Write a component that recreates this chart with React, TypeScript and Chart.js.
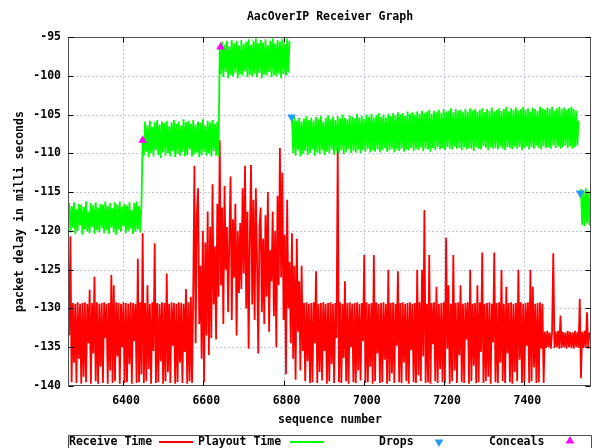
import React, { useEffect, useRef } from 'react';
import { Chart, registerables } from 'chart.js';

Chart.register(...registerables);

// ---------- text ----------
const TITLE = 'AacOverIP Receiver Graph';
const X_TITLE = 'sequence number';
const Y_TITLE = 'packet delay in milli seconds';
const legendLabels = ['Receive Time', 'Playout Time', 'Drops', 'Conceals'];

// ---------- axes ----------
const X_MIN = 6263;
const X_MAX = 7566;
const Y_MIN = -140;
const Y_MAX = -95;
const xTickValues = [6400, 6600, 6800, 7000, 7200, 7400];
const yTickValues = [-140, -135, -130, -125, -120, -115, -110, -105, -100, -95];

// sequence numbers of the line samples: first one and spacing
const SEQ_FIRST = 6263;
const SEQ_STEP = 3;

// ---------- series (ms) ----------
const receiveTime: number[] = [
  // 6263 .. 6572
  -131.5, -133.5, -120.7, -139.5, -129.3, -137.0, -129.4, -139.6, -129.2, -136.5,
  -129.4, -139.7, -129.3, -138.8, -129.2, -139.5, -129.4, -134.5, -127.6, -139.7,
  -129.3, -135.8, -125.9, -139.4, -129.2, -139.7, -129.4, -137.5, -129.3, -139.6,
  -129.2, -133.8, -129.4, -139.7, -129.3, -138.0, -125.7, -139.6, -127.0, -139.4,
  -129.2, -136.2, -129.3, -139.7, -129.4, -135.0, -129.2, -139.6, -129.3, -139.5,
  -129.4, -137.2, -129.2, -139.7, -129.3, -134.2, -129.4, -139.6, -123.6, -139.5,
  -129.2, -138.5, -120.3, -139.6, -129.3, -139.4, -127.0, -137.8, -129.4, -139.7,
  -129.2, -135.5, -121.6, -139.6, -129.3, -139.5, -129.4, -136.8, -129.2, -139.7,
  -129.3, -139.4, -125.5, -138.2, -129.4, -139.6, -129.2, -134.8, -129.3, -139.7,
  -129.4, -139.5, -129.2, -137.0, -129.3, -139.6, -129.4, -135.6, -127.5, -139.7,
  -129.2, -139.4, -128.5, -139.6,
  // 6575 .. 6848
  -128.0, -111.6, -134.5, -118.0, -114.5, -132.0, -124.5, -136.5, -120.0, -139.5,
  -121.5, -133.5, -117.5, -136.0, -119.5, -133.8, -114.0, -129.5, -122.0, -134.0,
  -116.5, -128.5, -108.3, -127.0, -117.0, -132.0, -114.2, -125.0, -119.5, -130.5,
  -121.0, -113.0, -131.5, -118.5, -126.0, -116.5, -133.5, -120.0, -128.0, -119.0,
  -127.5, -114.5, -125.5, -111.6, -130.0, -117.5, -135.2, -121.0, -111.5, -129.5,
  -116.0, -131.5, -114.5, -124.0, -135.8, -119.5, -117.0, -130.5, -121.0, -132.0,
  -118.0, -128.5, -115.0, -133.0, -122.5, -126.5, -117.5, -131.0, -120.0, -135.0,
  -115.5, -127.0, -109.3, -126.0, -112.5, -131.5, -120.5, -138.5, -116.0, -130.0,
  -124.0, -134.5, -120.3, -136.5, -124.5, -139.2, -121.0, -133.0, -126.5, -138.0,
  -124.5, -135.5,
  // 6851 .. 7448
  -129.3, -139.4, -129.2, -136.8, -129.4, -139.6, -129.3, -139.5, -129.2, -134.5,
  -125.2, -139.6, -129.4, -138.2, -129.3, -139.3, -129.2, -135.5, -129.4, -139.7,
  -129.3, -139.4, -129.2, -137.2, -129.4, -139.6, -129.3, -133.8, -109.3, -139.5,
  -129.2, -139.6, -129.4, -136.4, -126.5, -139.4, -129.3, -139.7, -129.2, -135.0,
  -129.4, -139.5, -129.3, -139.6, -129.2, -138.0, -129.4, -139.3, -129.3, -134.2,
  -123.1, -139.6, -129.2, -139.5, -129.4, -137.5, -129.3, -139.7, -123.1, -139.4,
  -129.2, -135.8, -129.4, -139.6, -129.3, -139.5, -129.2, -136.6, -129.4, -139.7,
  -125.0, -139.4, -129.3, -138.4, -129.2, -139.6, -129.4, -134.8, -125.2, -139.5,
  -129.3, -139.6, -129.2, -137.0, -129.4, -139.4, -129.3, -139.7, -129.2, -135.4,
  -129.4, -139.5, -129.3, -139.6, -125.0, -138.6, -129.2, -139.4, -125.0, -136.2,
  -117.3, -139.6, -129.4, -139.5, -123.1, -139.7, -129.3, -134.6, -129.2, -139.4,
  -127.2, -139.6, -129.4, -137.8, -129.3, -139.5, -129.2, -139.6, -120.9, -135.2,
  -127.0, -139.7, -129.4, -139.4, -123.1, -138.0, -129.3, -139.6, -129.2, -136.0,
  -127.0, -139.5, -129.4, -139.6, -129.3, -134.0, -129.2, -139.7, -125.0, -139.4,
  -129.4, -137.4, -129.3, -139.6, -127.0, -139.5, -129.2, -135.6, -122.8, -139.6,
  -129.4, -139.4, -129.3, -138.8, -129.2, -139.7, -129.4, -134.4, -122.8, -139.5,
  -129.3, -139.6, -129.2, -137.0, -125.0, -139.4, -129.4, -139.6, -127.2, -135.8,
  -129.3, -139.5, -129.2, -139.7, -129.4, -138.2, -129.3, -139.4, -125.0, -136.6,
  -129.2, -139.6, -129.4, -139.5, -129.3, -134.8, -129.2, -139.6, -125.0, -139.4,
  -127.2, -137.6, -129.4, -139.6, -129.3, -139.5, -129.2, -135.2, -129.4, -139.6,
  // 7451 .. 7565
  -133.0, -135.1, -132.9, -135.0, -133.1, -135.2, -133.0, -122.9, -135.1, -133.0,
  -135.0, -132.9, -135.2, -130.9, -135.1, -133.0, -135.0, -133.1, -135.2, -132.9,
  -135.0, -133.0, -135.1, -133.1, -135.2, -132.9, -135.0, -133.0, -135.1, -128.8,
  -139.0, -133.0, -135.1, -132.9, -135.0, -130.5, -135.2, -133.1, -133.6,
];

const playoutTime: (number | null)[] = [
  // 6263 .. 6446
  -118.5, -116.4, -120.2, -116.8, -119.6, -116.3, -120.4, -117.2, -120.0, -116.5,
  -119.3, -116.6, -120.5, -116.9, -119.8, -116.2, -120.1, -117.5, -120.3, -116.4,
  -119.5, -116.7, -120.4, -116.3, -119.9, -117.0, -120.2, -116.5, -119.7, -116.6,
  -120.3, -116.2, -119.9, -116.8, -120.4, -116.4, -119.6, -117.1, -120.2, -116.3,
  -120.5, -116.6, -119.8, -116.2, -120.1, -116.9, -119.4, -116.5, -120.3, -116.7,
  -120.0, -116.3, -119.7, -117.3, -120.4, -116.4, -120.1, -116.2, -119.8, -116.8,
  -120.2, -116.5,
  // 6449 .. 6638
  -108.2, -110.3, -105.9, -109.8, -106.4, -110.5, -105.8, -110.0, -106.6, -110.4,
  -106.0, -109.6, -105.7, -110.2, -106.3, -110.6, -105.9, -109.9, -106.1, -110.3,
  -105.8, -110.0, -106.5, -110.4, -106.0, -109.7, -105.7, -110.5, -106.2, -110.1,
  -105.9, -110.3, -106.4, -109.8, -105.6, -110.4, -106.0, -110.2, -105.8, -109.5,
  -106.2, -110.4, -105.7, -110.1, -106.3, -109.9, -105.9, -110.5, -106.1, -110.2,
  -105.6, -109.8, -106.4, -110.3, -105.8, -110.0, -106.0, -110.4, -105.7, -109.7,
  -106.2, -110.3, -105.9, -110.4,
  // 6641 .. 6815
  -96.5, -99.8, -95.6, -100.2, -96.0, -99.5, -95.5, -100.3, -96.2, -99.9,
  -95.4, -100.1, -95.8, -99.6, -95.5, -100.3, -96.1, -99.8, -95.4, -100.0,
  -95.9, -99.4, -95.6, -100.2, -95.3, -99.9, -96.0, -100.1, -95.5, -99.7,
  -95.2, -100.2, -95.8, -99.6, -95.4, -100.3, -95.7, -99.8, -95.3, -100.0,
  -96.0, -99.5, -95.5, -100.2, -95.2, -99.9, -95.8, -100.1, -95.4, -99.7,
  -95.6, -100.3, -95.3, -99.8, -95.9, -100.0, -95.2, -99.6, -95.5,
  // 6818 (dropped)
  null,
  // 6821 .. 7535
  -105.6, -110.0, -105.3, -110.3, -105.8, -109.6, -105.4, -110.4, -105.9, -110.1,
  -105.5, -109.7, -105.2, -110.2, -105.7, -110.0, -105.4, -109.5, -105.8, -110.3,
  -105.3, -109.9, -105.6, -110.1, -105.2, -109.6, -105.9, -110.2, -105.4, -109.8,
  -105.1, -110.0, -105.6, -109.5, -105.3, -110.2, -105.7, -109.7, -105.2, -110.0,
  -105.5, -109.6, -105.0, -110.1, -105.4, -109.8, -105.6, -109.4, -105.1, -110.0,
  -105.3, -109.7, -105.5, -109.9, -104.9, -109.5, -105.4, -110.0, -105.2, -109.6,
  -105.6, -109.8, -105.0, -109.4, -105.3, -109.9, -104.9, -109.6, -105.4, -109.8,
  -105.1, -109.5, -104.8, -109.9, -105.3, -109.6, -105.0, -109.3, -105.4, -109.8,
  -104.9, -109.6, -105.2, -109.4, -104.8, -109.9, -105.1, -109.5, -104.7, -109.7,
  -105.0, -109.4, -104.8, -109.8, -105.2, -109.5, -104.6, -109.6, -104.9, -109.3,
  -104.7, -109.7, -105.0, -109.4, -104.6, -109.6, -104.9, -109.2, -104.5, -109.7,
  -104.8, -109.4, -104.6, -109.5, -104.4, -109.8, -104.9, -109.3, -104.5, -109.6,
  -104.7, -109.2, -104.4, -109.5, -104.8, -109.3, -104.3, -109.6, -104.6, -109.2,
  -104.5, -109.4, -104.2, -109.5, -104.7, -109.1, -104.3, -109.4, -104.5, -109.3,
  -104.4, -109.6, -104.7, -109.2, -104.3, -109.5, -104.6, -109.3, -104.2, -109.4,
  -104.5, -109.7, -104.3, -109.2, -104.6, -109.4, -104.4, -109.5, -104.2, -109.1,
  -104.7, -109.3, -104.3, -109.6, -104.5, -109.2, -104.1, -109.4, -104.6, -109.3,
  -104.4, -109.5, -104.2, -109.1, -104.5, -109.4, -104.3, -109.6, -104.0, -109.2,
  -104.6, -109.3, -104.2, -109.5, -104.4, -109.1, -104.1, -109.4, -104.5, -109.2,
  -104.3, -109.6, -104.0, -109.3, -104.4, -109.1, -104.2, -109.5, -104.6, -109.2,
  -104.1, -109.4, -104.3, -109.0, -104.5, -109.3, -104.0, -109.5, -104.2, -109.1,
  -104.4, -109.3, -104.1, -109.2, -104.3, -109.4, -104.0, -109.0, -104.5, -109.3,
  -104.2, -109.1, -104.0, -109.4, -104.3, -109.2, -104.1, -109.0, -104.4, -109.3,
  -104.2, -109.1, -104.0, -109.4, -104.3, -109.2, -104.5, -109.0, -105.8,
  // 7538 (dropped)
  null,
  // 7541 .. 7565
  -114.6, -119.2, -114.8, -119.4, -114.5, -119.0, -114.9, -119.3, -115.0,
];

const dropSeq = [6820, 7539];
const dropDelay = [-105.3, -115.1];
const concealSeq = [6449, 6643];
const concealDelay = [-108.3, -96.3];

// ---------- style ----------
const RED = '#ff0000';
const GREEN = '#00ff00';
const BLUE = '#1e9bf5';
const MAGENTA = '#ff00ff';
const GRID = '#c4c4f4';
const BORDER = '#505050';
const FONT = 'bold 11.5px "DejaVu Sans Mono", "Liberation Mono", monospace';

function tri(ctx: CanvasRenderingContext2D, x: number, y: number, r: number, down: boolean, color: string) {
  ctx.save();
  ctx.fillStyle = color;
  ctx.beginPath();
  const s = down ? -1 : 1;
  ctx.moveTo(x, y - s * r);
  ctx.lineTo(x + r * 0.866, y + s * r * 0.5);
  ctx.lineTo(x - r * 0.866, y + s * r * 0.5);
  ctx.closePath();
  ctx.fill();
  ctx.restore();
}

const decor = {
  id: 'decor',
  beforeDatasetsDraw(chart: any) {
    const { ctx, chartArea: a, scales } = chart;
    const xs = scales.x;
    const ys = scales.y;
    ctx.save();
    ctx.strokeStyle = GRID;
    ctx.lineWidth = 1;
    ctx.setLineDash([2, 2]);
    xTickValues.forEach((v) => {
      const px = Math.round(xs.getPixelForValue(v)) + 0.5;
      ctx.beginPath();
      ctx.moveTo(px, a.top);
      ctx.lineTo(px, a.bottom);
      ctx.stroke();
    });
    yTickValues.forEach((v) => {
      if (v === Y_MIN || v === Y_MAX) return;
      const py = Math.round(ys.getPixelForValue(v)) + 0.5;
      ctx.beginPath();
      ctx.moveTo(a.left, py);
      ctx.lineTo(a.right, py);
      ctx.stroke();
    });
    ctx.restore();
  },
  afterDatasetsDraw(chart: any) {
    const { ctx, chartArea: a, scales } = chart;
    const xs = scales.x;
    const ys = scales.y;
    const L = Math.round(a.left) + 0.5;
    const R = Math.round(a.right) - 0.5;
    const T = Math.round(a.top) + 0.5;
    const B = Math.round(a.bottom) - 0.5;
    ctx.save();
    ctx.strokeStyle = BORDER;
    ctx.lineWidth = 1;
    ctx.strokeRect(L, T, R - L, B - T);
    ctx.strokeStyle = '#000';
    const TL = 5;
    xTickValues.forEach((v) => {
      const px = Math.round(xs.getPixelForValue(v)) + 0.5;
      ctx.beginPath();
      ctx.moveTo(px, B);
      ctx.lineTo(px, B - TL);
      ctx.moveTo(px, T);
      ctx.lineTo(px, T + TL);
      ctx.stroke();
    });
    yTickValues.forEach((v) => {
      const py = Math.round(ys.getPixelForValue(v)) + 0.5;
      ctx.beginPath();
      ctx.moveTo(L, py);
      ctx.lineTo(L + TL, py);
      ctx.moveTo(R, py);
      ctx.lineTo(R - TL, py);
      ctx.stroke();
    });
    ctx.restore();
  },
  afterDraw(chart: any) {
    const { ctx, chartArea: a } = chart;
    ctx.save();
    ctx.font = FONT;
    ctx.fillStyle = '#000';
    ctx.textBaseline = 'middle';
    ctx.textAlign = 'center';
    ctx.fillText(TITLE, 330, 17);
    ctx.fillText(X_TITLE, 330, 420);
    ctx.save();
    ctx.translate(20.5, (a.top + a.bottom) / 2);
    ctx.rotate(-Math.PI / 2);
    ctx.fillText(Y_TITLE, 0, 0);
    ctx.restore();

    // legend box
    ctx.strokeStyle = BORDER;
    ctx.lineWidth = 1;
    ctx.beginPath();
    ctx.moveTo(68.5, 448);
    ctx.lineTo(68.5, 435.5);
    ctx.lineTo(591.5, 435.5);
    ctx.lineTo(591.5, 448);
    ctx.stroke();

    const ly = 442;
    ctx.textAlign = 'left';
    ctx.fillText(legendLabels[0], 69, ly);
    ctx.fillText(legendLabels[1], 198, ly);
    ctx.fillText(legendLabels[2], 379, ly);
    ctx.fillText(legendLabels[3], 489, ly);
    ctx.lineWidth = 2;
    ctx.strokeStyle = RED;
    ctx.beginPath();
    ctx.moveTo(159, ly);
    ctx.lineTo(193, ly);
    ctx.stroke();
    ctx.strokeStyle = GREEN;
    ctx.beginPath();
    ctx.moveTo(290, ly);
    ctx.lineTo(324, ly);
    ctx.stroke();
    tri(ctx, 439, ly, 5, true, BLUE);
    tri(ctx, 570, ly - 1, 5, false, MAGENTA);
    ctx.restore();
  },
};

export default function App() {
  const ref = useRef<HTMLCanvasElement | null>(null);

  useEffect(() => {
    document.body.style.margin = '0';
    const canvas = ref.current;
    if (!canvas) return;

    const recv = receiveTime.map((v, i) => ({ x: SEQ_FIRST + i * SEQ_STEP, y: v }));
    const play = playoutTime.map((v, i) => ({ x: SEQ_FIRST + i * SEQ_STEP, y: v }));
    const drops = dropSeq.map((s, i) => ({ x: s, y: dropDelay[i] }));
    const conceals = concealSeq.map((s, i) => ({ x: s, y: concealDelay[i] }));

    const lineCommon = {
      pointRadius: 0,
      borderWidth: 1.8,
      tension: 0,
      fill: false,
      spanGaps: false,
      borderJoinStyle: 'bevel' as const,
    };

    const chart = new Chart(canvas, {
      type: 'line',
      data: {
        datasets: [
          { label: legendLabels[0], data: recv, borderColor: RED, order: 4, ...lineCommon },
          { label: legendLabels[1], data: play as any, borderColor: GREEN, order: 3, ...lineCommon },
          {
            label: legendLabels[2],
            data: drops,
            showLine: false,
            pointStyle: 'triangle',
            pointRotation: 180,
            pointRadius: 5,
            pointBorderWidth: 0,
            pointBackgroundColor: BLUE,
            pointBorderColor: BLUE,
            order: 2,
          },
          {
            label: legendLabels[3],
            data: conceals,
            showLine: false,
            pointStyle: 'triangle',
            pointRadius: 5,
            pointBorderWidth: 0,
            pointBackgroundColor: MAGENTA,
            pointBorderColor: MAGENTA,
            order: 1,
          },
        ],
      },
      options: {
        responsive: false,
        animation: false,
        events: [],
        layout: { padding: { top: 37, right: 4, bottom: 40, left: 0 } },
        plugins: {
          legend: { display: false },
          title: { display: false },
          tooltip: { enabled: false },
        },
        scales: {
          x: {
            type: 'linear',
            min: X_MIN,
            max: X_MAX,
            grid: { display: false, drawTicks: false },
            border: { display: false },
            afterBuildTicks: (s: any) => {
              s.ticks = xTickValues.map((v) => ({ value: v }));
            },
            afterFit: (s: any) => {
              s.height = 22;
            },
            ticks: {
              autoSkip: false,
              maxRotation: 0,
              padding: 8,
              labelOffset: 3,
              color: '#000',
              font: { family: '"DejaVu Sans Mono", monospace', size: 11.5, weight: 'bold' },
              callback: (v: any) => String(v),
            },
          },
          y: {
            type: 'linear',
            min: Y_MIN,
            max: Y_MAX,
            grid: { display: false, drawTicks: false },
            border: { display: false },
            afterBuildTicks: (s: any) => {
              s.ticks = yTickValues.map((v) => ({ value: v }));
            },
            afterFit: (s: any) => {
              s.width = 68;
            },
            ticks: {
              autoSkip: false,
              padding: 7,
              color: '#000',
              font: { family: '"DejaVu Sans Mono", monospace', size: 11.5, weight: 'bold' },
              callback: (v: any) => String(v),
            },
          },
        },
      },
      plugins: [decor],
    });

    return () => chart.destroy();
  }, []);

  return (
    <div style={{ width: 596, height: 448, background: '#fff' }}>
      <canvas ref={ref} width={596} height={448} style={{ display: 'block' }} />
    </div>
  );
}
